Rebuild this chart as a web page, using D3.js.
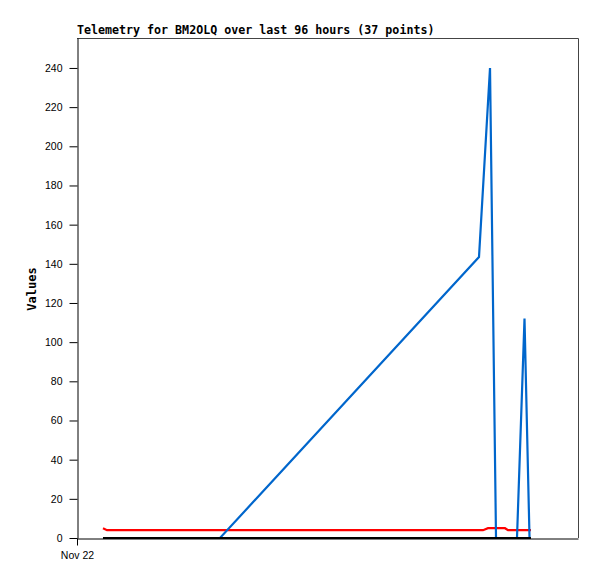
<!DOCTYPE html>
<html>
<head>
<meta charset="utf-8">
<script src="https://cdn.jsdelivr.net/npm/d3@7/dist/d3.min.js"></script>
<style>
html,body{margin:0;padding:0;background:#fff;}
svg{display:block;}
</style>
</head>
<body>
<script>
// ---- data (hours from axis start, Nov 22) ----
const titleText = "Telemetry for BM2OLQ over last 96 hours (37 points)";
const yLabel = "Values";
const xTickHours = [0];
const xTickLabels = ["Nov 22"];
const yTicks = [0, 20, 40, 60, 80, 100, 120, 140, 160, 180, 200, 220, 240];

const blueTimes  = [4.98, 27.40, 77.03, 79.14, 80.29, 84.31, 85.75, 86.71];
const blueValues = [0, 0, 143.5, 240, 0, 0, 112, 0];

const redTimes  = [4.98, 5.75, 77.80, 78.75, 82.01, 82.59, 86.99];
const redValues = [5, 4, 4, 5, 5, 4, 4];

const blackTimes  = [4.98, 86.99];
const blackValues = [0, 0];

// ---- layout ----
const W = 597, H = 579;
const mLeft = 77, mRight = 578, mTop = 38, mBottom = 538;

const svg = d3.select("body").append("svg").attr("width", W).attr("height", H);
svg.append("rect").attr("width", W).attr("height", H).attr("fill", "#fff");

const x = d3.scaleLinear().domain([0, 96]).range([mLeft, mRight]);
const y = d3.scaleLinear().domain([0, 255.3]).range([mBottom, mTop]);

// frame top/right
svg.append("path")
  .attr("d", `M${mLeft},${mTop + 0.5}H${mRight + 0.5}V${mBottom}`)
  .attr("fill", "none").attr("stroke", "#444").attr("stroke-width", 1);

// y axis
const yAxis = d3.axisLeft(y).tickValues(yTicks).tickSize(8).tickPadding(7).tickSizeOuter(0);
const gy = svg.append("g").attr("transform", `translate(${mLeft + 0.5},0)`).call(yAxis);
gy.select(".domain").attr("stroke", "#000");
gy.selectAll(".tick line").attr("stroke", "#000");
gy.selectAll("text").attr("font-family", "'Liberation Sans', Arial, sans-serif")
  .attr("font-size", "10.5px").attr("fill", "#000");

// x axis
const xAxis = d3.axisBottom(x).tickValues(xTickHours)
  .tickFormat((d, i) => xTickLabels[i]).tickSize(7).tickPadding(6).tickSizeOuter(0);
const gx = svg.append("g").attr("transform", `translate(0,${mBottom + 0.5})`).call(xAxis);
gx.select(".domain").attr("stroke", "#000");
gx.selectAll(".tick line").attr("stroke", "#000");
gx.selectAll("text").attr("font-family", "'Liberation Sans', Arial, sans-serif")
  .attr("font-size", "10.5px").attr("fill", "#000");

const line = d3.line().x(d => x(d[0])).y(d => y(d[1]));

function drawSeries(times, values, color) {
  svg.append("path")
    .datum(times.map((t, i) => [t, values[i]]))
    .attr("d", line)
    .attr("fill", "none")
    .attr("stroke", color)
    .attr("stroke-width", 2.2)
    .attr("stroke-linejoin", "miter");
}

drawSeries(redTimes, redValues, "#ff0000");
drawSeries(blueTimes, blueValues, "#0066cc");
drawSeries(blackTimes, blackValues, "#000000");

// title
svg.append("text")
  .attr("x", mLeft).attr("y", 34)
  .attr("font-family", "'DejaVu Sans Mono', 'Liberation Mono', monospace")
  .attr("font-weight", "bold").attr("font-size", "11.65px")
  .attr("fill", "#000")
  .text(titleText);

// y label
svg.append("text")
  .attr("transform", `translate(36,289) rotate(-90)`)
  .attr("text-anchor", "middle")
  .attr("font-family", "'DejaVu Sans Mono', 'Liberation Mono', monospace")
  .attr("font-weight", "bold").attr("font-size", "12px")
  .attr("fill", "#000")
  .text(yLabel);
</script>
</body>
</html>
